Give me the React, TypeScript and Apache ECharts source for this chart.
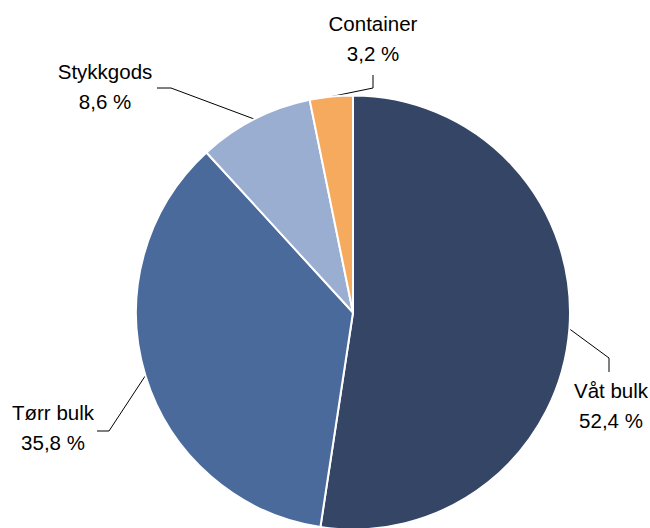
import React, { useEffect, useRef } from "react";
import * as echarts from "echarts";

const categories = ["Våt bulk", "Tørr bulk", "Stykkgods", "Container"];
const shares = [52.4, 35.8, 8.6, 3.2];
const sliceColors = ["#344566", "#4a6a9c", "#9aaed1", "#f6aa5e"];
// label block centres and leader-line bend/end points (layout only)
const labelCenters = [
  [611, 405],
  [53, 427],
  [105, 86],
  [373, 38],
];
const leaderBends = [
  [[609, 358], [609, 372]],
  [[109, 431], [97, 431]],
  [[171, 88], [157, 88]],
  [[373, 88], [373, 75]],
];

export default function App() {
  const ref = useRef<HTMLDivElement>(null);
  useEffect(() => {
    if (!ref.current) return;
    const chart = echarts.init(ref.current, null, { renderer: "svg" });
    chart.setOption({
      animation: false,
      backgroundColor: "#ffffff",
      series: [
        {
          type: "pie",
          center: [353, 312.5],
          radius: [0, 217],
          startAngle: 90,
          clockwise: true,
          avoidLabelOverlap: false,
          itemStyle: { borderColor: "#ffffff", borderWidth: 2 },
          label: {
            show: true,
            position: "outside",
            formatter: (p: any) =>
              p.name + "\n" + String(p.value.toFixed(1)).replace(".", ",") + " %",
            fontFamily: "Liberation Sans",
            fontSize: 20.5,
            lineHeight: 30,
            color: "#000000",
            align: "center",
          },
          labelLine: {
            show: true,
            smooth: false,
            lineStyle: { color: "#000000", width: 1 },
          },
          labelLayout: (params: any) => {
            const i = params.dataIndex;
            const anchor = params.labelLinePoints
              ? params.labelLinePoints[0]
              : [0, 0];
            return {
              x: labelCenters[i][0],
              y: labelCenters[i][1],
              align: "center",
              verticalAlign: "middle",
              labelLinePoints: [anchor, leaderBends[i][0], leaderBends[i][1]],
            };
          },
          data: categories.map((name, i) => ({
            name,
            value: shares[i],
            itemStyle: { color: sliceColors[i] },
          })),
        },
      ],
    });
    return () => chart.dispose();
  }, []);
  return (
    <div
      ref={ref}
      style={{ position: "fixed", left: 0, top: 0, width: 650, height: 528 }}
    />
  );
}
